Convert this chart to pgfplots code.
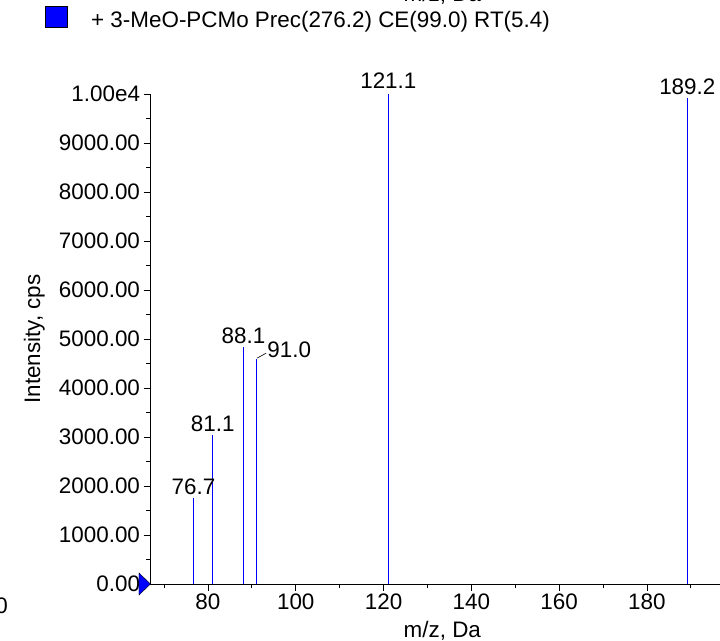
\documentclass[border=0pt]{standalone}
\usepackage{pgfplots}
\pgfplotsset{compat=1.18}
\usepackage{fontspec}
\setmainfont{Liberation Sans}

% precursor marker: a triangle whose tip sits on the point
\pgfdeclareplotmark{prec}{%
	\pgfpathmoveto{\pgfqpoint{-11bp}{11bp}}%
	\pgfpathlineto{\pgfqpoint{0.5bp}{0bp}}%
	\pgfpathlineto{\pgfqpoint{-11bp}{-11bp}}%
	\pgfpathclose
	\pgfusepathqfillstroke}

\begin{document}
\begin{tikzpicture}
\useasboundingbox (0,0) rectangle (720bp,641bp);
\begin{axis}[
	at={(150bp,57bp)}, anchor=south west,
	scale only axis,
	width=584.7bp, height=490bp,
	xmin=66.8, xmax=200,
	ymin=0, ymax=10000,
	axis lines=left,
	axis line style={-, black, line width=0.8bp},
	clip=false,
	tick align=outside,
	major tick length=6.5bp,
	minor tick length=4bp,
	tick style={black, line width=0.8bp},
	scaled y ticks=false,
	xtick={80,100,120,140,160,180},
	xticklabels={80,100,120,140,160,180},
	minor xtick={70,90,110,130,150,170,190},
	ytick={0,1000,2000,3000,4000,5000,6000,7000,8000,9000,10000},
	yticklabels={0.00,1000.00,2000.00,3000.00,4000.00,5000.00,6000.00,7000.00,8000.00,9000.00,1.00e4},
	minor ytick={500,1500,2500,3500,4500,5500,6500,7500,8500,9500},
	font=\fontsize{22.5}{26}\selectfont,
	xlabel={m/z, Da},
	ylabel={Intensity, cps},
	xlabel style={at={(axis description cs:0.5,0)}, anchor=base, yshift=-53bp},
	ylabel style={at={(axis description cs:-0.198,0.5)}, anchor=center},
]
\addplot[ycomb, blue, line width=1.1bp] coordinates {
	(76.7,1750) (81.1,3040) (88.1,4840) (91.0,4590) (121.1,10000) (189.2,9920)
};
\addplot[only marks, mark=prec, mark options={fill=blue, draw=black, line width=0.4bp}]
	coordinates {(66.8,0)};

\node[anchor=base, inner sep=0pt, yshift=4bp] at (axis cs:76.7,1750) {76.7};
\node[anchor=base, inner sep=0pt, yshift=4bp] at (axis cs:81.1,3040) {81.1};
\node[anchor=base, inner sep=0pt, yshift=3bp] at (axis cs:88.1,4840) {88.1};
\draw[black, line width=0.6bp] (axis cs:91.0,4590) ++(1bp,1bp) -- ++(9bp,5bp);
\node[anchor=base west, inner sep=0pt, xshift=11bp, yshift=2bp] at (axis cs:91.0,4590) {91.0};
\node[anchor=base, inner sep=0pt, yshift=5bp] at (axis cs:121.1,10000) {121.1};
\node[anchor=base, inner sep=0pt, yshift=3bp] at (axis cs:189.2,9920) {189.2};

% legend and the headings of the neighbouring panels, cut by the page edge
\fill[blue, draw=black, line width=0.4bp] (rel axis cs:0,1) ++(-105bp,67bp) rectangle ++(22bp,21bp);
\node[anchor=base west, inner sep=0pt] at (rel axis cs:0,1) [xshift=-59bp, yshift=66bp] {+ 3-MeO-PCMo Prec(276.2) CE(99.0) RT(5.4)};
\node[anchor=base, inner sep=0pt] at (rel axis cs:0.5,1) [yshift=92bp] {m/z, Da};
\node[anchor=base east, inner sep=0pt] at (rel axis cs:0,0) [xshift=-142bp, yshift=-29bp] {60};
\end{axis}
\end{tikzpicture}
\end{document}
